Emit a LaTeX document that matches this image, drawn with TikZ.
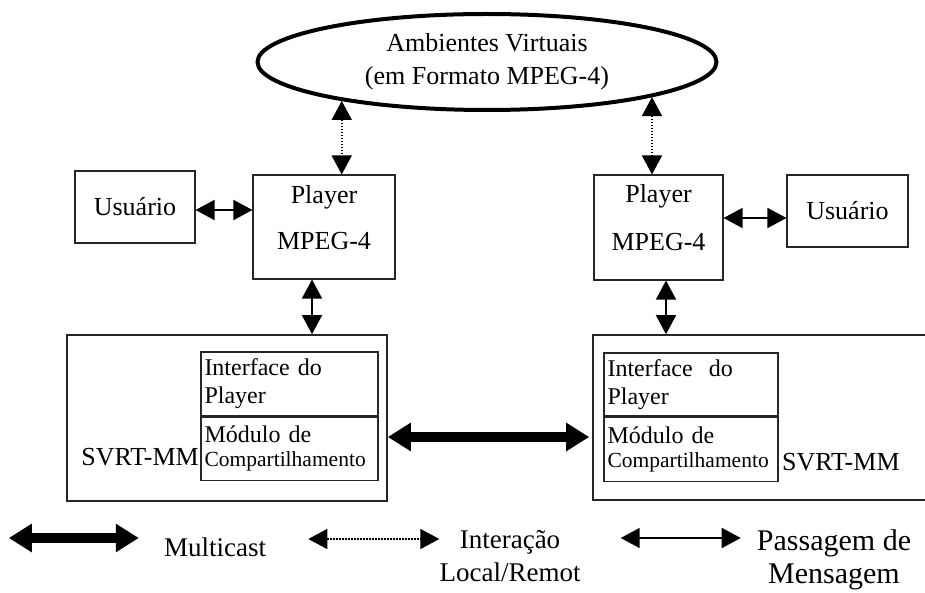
\documentclass[tikz,border=0pt]{standalone}
\usepackage{fontspec}
\setmainfont{Liberation Serif}
\usetikzlibrary{positioning,arrows.meta,shapes.geometric,calc}

\begin{document}
\begin{tikzpicture}[x=1pt,y=-1pt,
  box/.style={draw=black!85,line width=1.1pt,inner sep=0pt,font=\fontsize{26}{30}\selectfont},
  frame/.style={draw=black!85,line width=1.6pt,inner sep=0pt},
  sub/.style={draw=black!85,line width=1.1pt,inner sep=0pt,align=left,text width=170pt,font=\fontsize{24}{28}\selectfont},
  lbl/.style={inner sep=0pt,font=\fontsize{26}{30}\selectfont},
  a/.style={{Triangle[length=19pt,width=20pt]}-{Triangle[length=19pt,width=20pt]},line width=1.6pt},
  dot/.style={a,dash pattern=on 1.6pt off 1.4pt,line width=1.6pt},
  multi/.style={{Triangle[length=23pt,width=27pt]}-{Triangle[length=23pt,width=27pt]},line width=10pt}]
  \useasboundingbox (0,0) rectangle (925,593);

  \node[ellipse,draw,line width=4pt,minimum width=459pt,minimum height=96pt,inner sep=0pt,
    align=center,font=\fontsize{26}{33}\selectfont] (amb) at (487,62) {Ambientes Virtuais\\(em Formato MPEG-4)};

  % left side
  \node[box,minimum width=120pt,minimum height=72pt] (usrL) at (135,207) {Usuário};
  \node[box,minimum width=142pt,minimum height=104pt] (plyL) at (324,227) {};
  \node[lbl] (plyLa) at (324,197) {Player};
  \node[lbl] (plyLb) at (324,241) {MPEG-4};
  \node[frame,minimum width=320pt,minimum height=166pt] (svrtL) at (227,418) {};
  \node[sub,minimum width=177pt,minimum height=64pt] (ifaceL) at (289.5,384) {Interface do\\Player};
  \node[sub,minimum width=177pt,minimum height=63pt,below=0pt of ifaceL,
    font=\fontsize{24}{24}\selectfont] (modL) {Módulo de\\{\fontsize{21.5}{24}\selectfont Compartilhamento}};
  \node[lbl,anchor=east] (svL) at (199,457) {SVRT-MM};

  % right side
  \node[box,minimum width=129pt,minimum height=105pt] (plyR) at (658.5,227.5) {};
  \node[lbl] (plyRa) at (658.5,196) {Player};
  \node[lbl] (plyRb) at (658.5,242) {MPEG-4};
  \node[box,minimum width=121pt,minimum height=72pt] (usrR) at (847.5,211) {Usuário};
  \node[frame,minimum width=337pt,minimum height=165pt] (svrtR) at (761.5,417.5) {};
  \node[sub,minimum width=174pt,minimum height=63pt,text width=167pt] (ifaceR) at (691,384.5) {Interface~ do\\Player};
  \node[sub,minimum width=174pt,minimum height=64pt,text width=167pt,below=0pt of ifaceR,
    font=\fontsize{24}{24}\selectfont] (modR) {Módulo de\\{\fontsize{21.5}{24}\selectfont Compartilhamento}};
  \node[lbl,anchor=west] (svR) at (782,462) {SVRT-MM};

  \draw[dot] (amb.195.5) -- (amb.195.5 |- plyL.north);
  \draw[dot] (amb.-12.6) -- (amb.-12.6 |- plyR.north);
  \draw[a] ([yshift=-3pt]usrL.east) -- ([yshift=-3pt]usrL.east -| plyL.west);
  \coordinate (uR) at ([yshift=-7pt]usrR.west);
  \draw[a] (uR -| plyR.east) -- (uR);
  \draw[a] ([xshift=-12pt]plyL.south) -- ([xshift=-12pt]plyL.south |- svrtL.north);
  \draw[a] ([xshift=7.5pt]plyR.south) -- ([xshift=7.5pt]plyR.south |- svrtR.north);
  \coordinate (mc) at (0,437);
  \draw[multi] (svrtL.east |- mc) -- ([xshift=-3pt]svrtR.west |- mc);

  % legend
  \node[lbl,font=\fontsize{27}{30}\selectfont] (lgMul) at (215,547) {Multicast};
  \node[lbl,align=center,font=\fontsize{27}{33}\selectfont] (lgInt) at (510,556.5) {Interação\\Local/Remot};
  \node[lbl,align=center,font=\fontsize{30}{33}\selectfont] (lgMsg) at (834,560) {Passagem de\\Mensagem};
  \draw[multi] ($(lgMul.west)+(-155,-9)$) -- ($(lgMul.west)+(-25,-9)$);
  \draw[dot] ($(lgInt.west)+(-131,-17.5)$) -- ($(lgInt.west)+(0,-17.5)$);
  \draw[a] ($(lgMsg.west)+(-136,-22)$) -- ($(lgMsg.west)+(-16,-22)$);
\end{tikzpicture}
\end{document}
